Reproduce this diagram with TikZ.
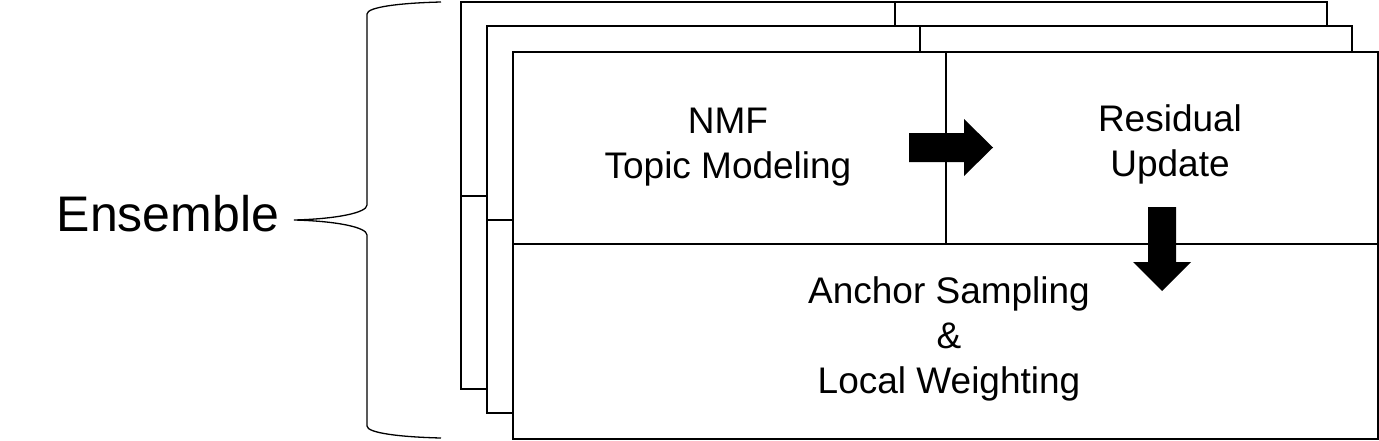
\documentclass[tikz,border=0pt]{standalone}
\usepackage{fontspec}
\setmainfont{Liberation Sans}
\begin{document}
\begin{tikzpicture}[x=1pt,y=-1pt,
  boxline/.style={draw=black, line width=1.6pt, fill=white},
  cell/.style={draw=black, line width=1.6pt, fill=white, inner sep=0pt, anchor=north west},
  lbl/.style={align=center, font=\fontsize{37}{45}\selectfont, inner sep=0pt},
  blockarrow/.style={fill=black, draw=none},
  bracepath/.style={draw=black, line width=1.3pt}]
\useasboundingbox (0,0) rectangle (1379,440);
% back sheet
\draw[boxline] (461,2) rectangle (1327,389);
\draw[line width=1.6pt] (895,2) -- (895,195);
\draw[line width=1.6pt] (461,196) -- (1327,196);
% middle sheet
\draw[boxline] (487,26) rectangle (1352,413);
\draw[line width=1.6pt] (920,26) -- (920,220);
\draw[line width=1.6pt] (487,220) -- (1352,220);
% front sheet cells
\node[cell, minimum width=433pt, minimum height=192pt] (nmfcell) at (512,51) {};
\node[cell, minimum width=432pt, minimum height=192pt] (rescell) at (945,51) {};
\node[cell, minimum width=865pt, minimum height=195pt] (anccell) at (512,243) {};
% labels
\node[lbl] (nmf) at (728,147) {NMF\\Topic Modeling};
\node[lbl] (res) at (1170,144) {Residual\\Update};
\node[lbl] (anc) at (949,339) {Anchor Sampling\\\&\\Local Weighting};
% block arrows
\fill[blockarrow] (909,133) -- (964,133) -- (964,119) -- (993,147.5) -- (964,176) -- (964,162) -- (909,162) -- cycle;
\fill[blockarrow] (1148,207) -- (1176,207) -- (1176,262) -- (1191,262) -- (1162,291) -- (1133,262) -- (1148,262) -- cycle;
% ensemble and brace
\node[font=\fontsize{50}{60}\selectfont, inner sep=0pt] (ens) at (168,214) {Ensemble};
\coordinate (btop) at (441,2);
\coordinate (bbot) at (441,438);
\coordinate (btip) at (294,220);
\draw[bracepath] (btop) .. controls (400,3) and (367,7) .. (367,14) -- (367,205)
  .. controls (367,213) and (335,219) .. (btip)
  .. controls (335,221) and (367,227) .. (367,235) -- (367,426)
  .. controls (367,433) and (400,437) .. (bbot);
\end{tikzpicture}
\end{document}
